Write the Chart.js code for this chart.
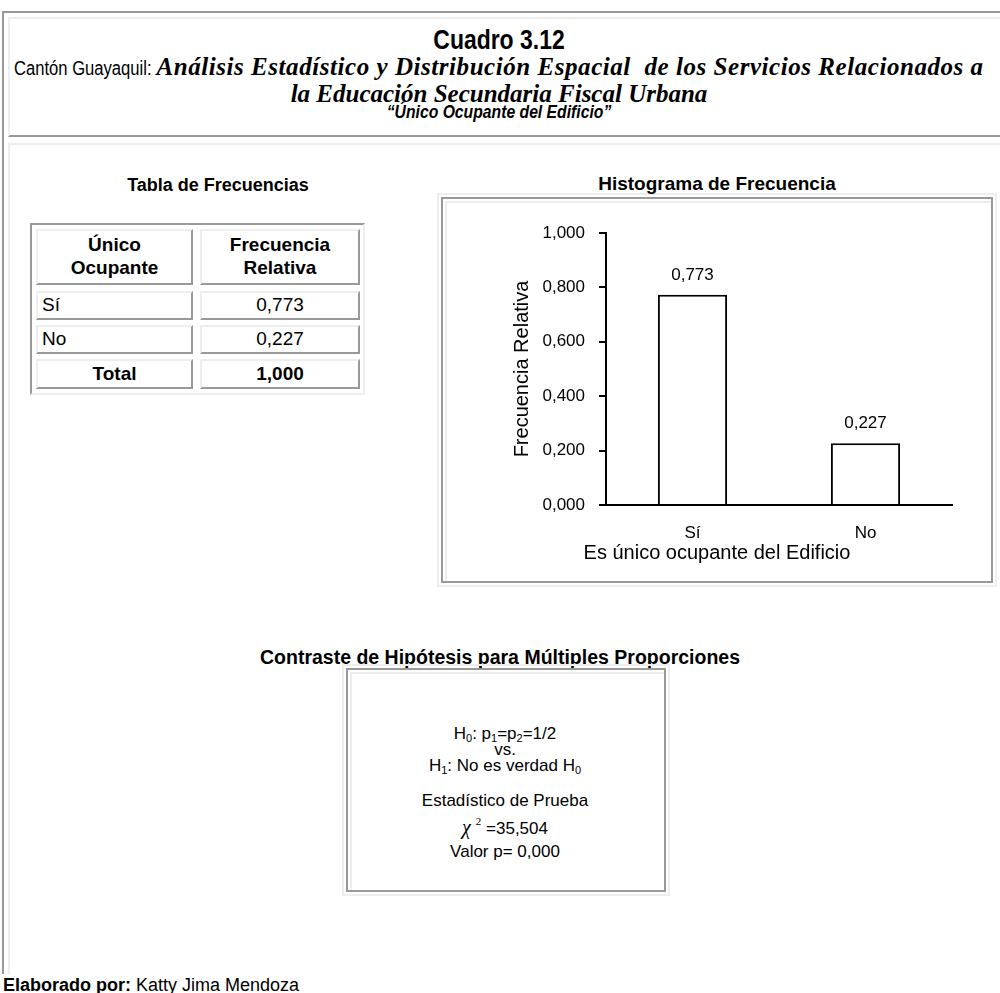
<!DOCTYPE html>
<html>
<head>
<meta charset="utf-8">
<script src="https://cdn.jsdelivr.net/npm/chart.js@4.4.0/dist/chart.umd.min.js"></script>
<style>
  html, body { margin: 0; padding: 0; background: #fff; overflow: hidden; }
  body { width: 1000px; height: 993px; position: relative; font-family: "Liberation Sans", Arial, sans-serif; color: #000; }
  .abs { position: absolute; }
  .line { position: absolute; left: 0; width: 998px; text-align: center; line-height: 1; white-space: nowrap; }
  .serif { font-family: "Liberation Serif", "Times New Roman", serif; font-weight: bold; font-style: italic; }
  .cell { position: absolute; box-sizing: border-box; border-top: 2px solid #eee; border-left: 2px solid #eee;
          border-bottom: 2px solid #999; border-right: 2px solid #999; font-size: 19px; line-height: 1.2;
          display: flex; align-items: center; }
  .c { justify-content: center; text-align: center; }
  .b { font-weight: bold; }
  .frame { position: absolute; box-sizing: border-box; border: 2px solid #eee; }
  .frame > div { position: absolute; left: 2px; top: 2px; right: 2px; bottom: 2px; border: 2px solid #999; }
  .frame > div > div { position: absolute; left: 2px; top: 2px; right: 0; bottom: 0; border-top: 2px solid #eee; border-left: 2px solid #eee; }
  .hyp { position: absolute; left: 346px; width: 318px; text-align: center; font-size: 17px; line-height: 1; white-space: nowrap; }
  sub { font-size: 11px; vertical-align: -3px; line-height: 0; }
</style>
</head>
<body>

<!-- marcos de la pagina -->
<div class="abs" style="left:2px;top:11px;width:1200px;height:961px;border-left:2px solid #999;border-top:2px solid #999;"></div>
<div class="abs" style="left:8px;top:17px;width:1200px;height:116px;border-left:2px solid #eee;border-top:2px solid #eee;border-bottom:2px solid #999;"></div>
<div class="abs" style="left:8px;top:143px;width:1200px;height:829px;border-left:2px solid #eee;border-top:2px solid #eee;"></div>

<!-- encabezado (letra angosta: se comprime en X) -->
<div class="line b" style="top:27px;font-size:27px;transform:scaleX(0.85);">Cuadro 3.12</div>
<div class="line" style="top:54px;font-size:25px;"><span style="display:inline-block;font-size:20px;transform:scaleX(0.83);transform-origin:0 0;margin-right:-29px;">Cantón Guayaquil:&nbsp;</span><span class="serif" style="letter-spacing:0.55px;">Análisis Estadístico y Distribución Espacial&nbsp; de los Servicios Relacionados a</span></div>
<div class="line serif" style="top:81px;font-size:25px;">la Educación Secundaria Fiscal Urbana</div>
<div class="line b" style="top:103px;font-size:18.5px;font-style:italic;transform:scaleX(0.85);">“Único Ocupante del Edificio”</div>

<!-- tabla de frecuencias -->
<div class="abs b" style="left:18px;width:400px;top:176px;font-size:18px;line-height:1;text-align:center;">Tabla de Frecuencias</div>
<div class="abs" style="left:30px;top:223px;width:335px;height:172px;box-sizing:border-box;border-left:2px solid #999;border-top:2px solid #999;border-right:2px solid #eee;border-bottom:2px solid #eee;"></div>
<div class="cell c b" style="left:36px;top:229px;width:157px;height:56px;">Único<br>Ocupante</div>
<div class="cell c b" style="left:200px;top:229px;width:160px;height:56px;">Frecuencia<br>Relativa</div>
<div id="tabla"></div>

<!-- histograma -->
<div class="frame" style="left:437px;top:193px;width:560px;height:394px;"><div><div></div></div></div>
<div class="abs b" style="left:467px;width:500px;top:174px;font-size:19px;line-height:1;text-align:center;">Histograma de Frecuencia</div>
<div class="abs" style="left:447px;top:201px;width:540px;height:376px;">
  <canvas id="histograma"></canvas>
</div>

<!-- contraste de hipotesis -->
<div class="abs b" style="left:200px;width:600px;top:648px;font-size:19.5px;line-height:1;text-align:center;">Contraste de Hipótesis para Múltiples Proporciones</div>
<div class="frame" style="left:342px;top:664px;width:328px;height:232px;"><div><div></div></div></div>
<div class="hyp" style="top:725px;">H<sub>0</sub>: p<sub>1</sub>=p<sub>2</sub>=1/2</div>
<div class="hyp" style="top:741px;">vs.</div>
<div class="hyp" style="top:757px;">H<sub>1</sub>: No es verdad H<sub>0</sub></div>
<div class="hyp" style="top:792px;">Estadístico de Prueba</div>
<div class="hyp" style="top:816px;"><span style="font-family:'Liberation Serif',serif;font-style:italic;font-size:20px;">χ</span><span style="font-family:'Liberation Serif',serif;font-size:11px;vertical-align:9px;margin-left:5px;">2</span> =35,504</div>
<div class="hyp" style="top:843px;">Valor p= 0,000</div>

<div class="abs" style="left:3px;top:976px;font-size:18px;line-height:1;white-space:nowrap;"><b>Elaborado por:</b> Katty Jima Mendoza</div>

<script>
'use strict'

  ///////////////////////////////
 // datos leidos del cuadro   //
///////////////////////////////

const categorias = [ 'Sí', 'No' ];
const frecuencias = [ 0.773, 0.227 ];
const totalFrecuencia = 1.000;

const yMin = 0;
const yMax = 1;
const yPaso = 0.2;

const ejeYTitulo = 'Frecuencia Relativa';
const ejeXTitulo = 'Es único ocupante del Edificio';

/**
 * numero con coma decimal, 3 decimales
 * @param {Number} valor
 */
const formato = valor => valor.toFixed( 3 ).replace( '.', ',' );

  /////////////////////////////////
 // filas de la tabla           //
/////////////////////////////////

const filasTop = [ 291, 325, 359 ];
const tabla = document.getElementById( 'tabla' );

categorias.forEach( ( cat, i ) => {
  tabla.insertAdjacentHTML( 'beforeend',
    `<div class="cell" style="left:36px;top:${filasTop[i]}px;width:157px;height:29px;padding-left:4px;">${cat}</div>` +
    `<div class="cell c" style="left:200px;top:${filasTop[i]}px;width:160px;height:29px;">${formato( frecuencias[i] )}</div>` );
});

tabla.insertAdjacentHTML( 'beforeend',
  `<div class="cell c b" style="left:36px;top:${filasTop[2]}px;width:157px;height:30px;">Total</div>` +
  `<div class="cell c b" style="left:200px;top:${filasTop[2]}px;width:160px;height:30px;">${formato( totalFrecuencia )}</div>` );

  ////////////////////////////////////////////////
 // etiquetas sobre las barras y titulo del X  //
////////////////////////////////////////////////

const etiquetasBarras = {
  id: 'etiquetasBarras',
  afterDatasetsDraw( chart ){
    const ctx = chart.ctx;
    const meta = chart.getDatasetMeta( 0 );
    ctx.save();
    ctx.font = '17px "Liberation Sans", Arial, sans-serif';
    ctx.fillStyle = '#000';
    ctx.textAlign = 'center';
    ctx.textBaseline = 'bottom';
    meta.data.forEach( ( barra, i ) => {
      ctx.fillText( formato( chart.data.datasets[0].data[i] ), barra.x, barra.y - 11 );
    });

    // el titulo del eje X va centrado en el recuadro, no en el eje
    ctx.font = '20px "Liberation Sans", Arial, sans-serif';
    ctx.textBaseline = 'middle';
    ctx.fillText( ejeXTitulo, chart.width / 2, chart.chartArea.bottom + 48 );
    ctx.restore();
  }
};

new Chart(
  document.getElementById( 'histograma' ),
  {
    type: 'bar',
    data: {
      labels: categorias,
      datasets: [{
        data: frecuencias,
        backgroundColor: '#fff',
        borderColor: '#000',
        borderWidth: 2,
        borderSkipped: 'bottom',
        barPercentage: 0.4,
        categoryPercentage: 1
      }]
    },
    options: {
      responsive: true,
      maintainAspectRatio: false,
      animation: false,
      layout: { padding: { top: 32, right: 35, left: 0, bottom: 0 } },
      plugins: {
        legend: { display: false },
        tooltip: { enabled: false }
      },
      scales: {
        x: {
          grid: { display: false },
          border: { display: true, color: '#000', width: 2 },
          ticks: { color: '#000', padding: 10, font: { family: '"Liberation Sans", Arial', size: 17 } },
          afterFit: scale => { scale.height = 72; }
        },
        y: {
          min: yMin,
          max: yMax,
          grid: { drawOnChartArea: false, drawTicks: true, tickLength: 7, color: '#000', lineWidth: 2 },
          border: { display: true, color: '#000', width: 2 },
          ticks: {
            stepSize: yPaso,
            color: '#000',
            padding: 14,
            font: { family: '"Liberation Sans", Arial', size: 17 },
            callback: valor => formato( valor )
          },
          title: {
            display: true,
            text: ejeYTitulo,
            color: '#000',
            font: { family: '"Liberation Sans", Arial', size: 20 },
            padding: { top: 63, bottom: 0 }
          },
          afterFit: scale => { scale.width = 159; }
        }
      }
    },
    plugins: [ etiquetasBarras ]
  }
);
</script>
</body>
</html>
